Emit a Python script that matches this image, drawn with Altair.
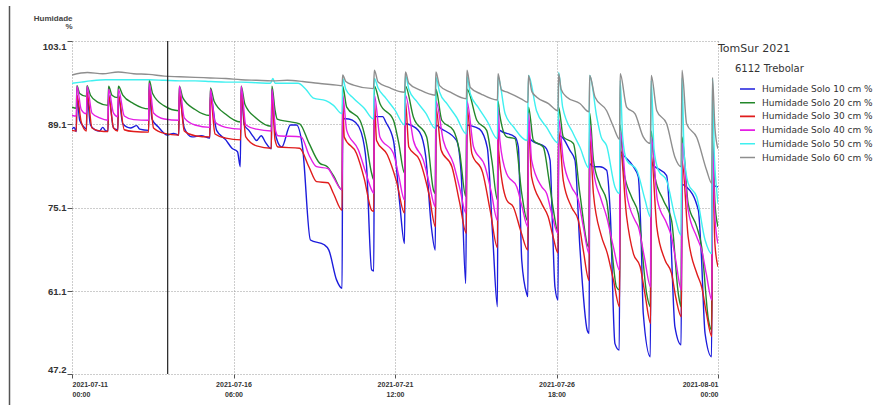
import altair as alt
import pandas as pd
from datetime import datetime, timezone

# ---------------- data (day offset from 2021-07-11 00:00, value %) ----------------
series_names = [
    "Humidade Solo 10 cm %", "Humidade Solo 20 cm %", "Humidade Solo 30 cm %",
    "Humidade Solo 40 cm %", "Humidade Solo 50 cm %", "Humidade Solo 60 cm %",
]
series_colors = ["#1c1cdc", "#23872a", "#e01c1c", "#e41ee4", "#3ff0f0", "#8e8e8e"]

s10 = [
    [0, 88.3], [0.07, 88.6], [0.14, 87.9], [0.16, 93.9], [0.25, 89.8], [0.4, 88.6], [0.47, 88.3],
    [0.49, 94.0], [0.6, 89.0], [0.75, 88.2], [0.9, 88.0], [1.0, 88.6], [1.1, 88.0], [1.17, 88.0],
    [1.19, 94.0], [1.35, 88.5], [1.49, 88.2], [1.51, 94.0], [1.65, 89.2], [1.9, 88.5], [2.1, 88.9],
    [2.2, 88.3], [2.49, 88.1], [2.51, 95.5], [2.6, 90.0], [2.8, 88.7], [3.1, 87.3], [3.3, 87.6],
    [3.47, 87.3], [3.49, 94.0], [3.65, 88.5], [3.9, 87.0], [4.2, 87.2], [4.48, 86.8], [4.5, 94.0],
    [4.7, 88.1], [5.0, 86.5], [5.2, 85.1], [5.38, 84.5], [5.47, 82.0], [5.5, 95.0], [5.6, 89.0],
    [5.75, 88.1], [5.9, 87.0], [6.0, 86.4], [6.15, 87.2], [6.3, 86.0], [6.48, 85.0], [6.5, 95.0],
    [6.6, 88.0], [6.7, 86.0], [6.82, 85.3], [7.1, 89.0], [7.3, 89.0], [7.5, 85.0], [7.75, 69.7],
    [8.2, 68.9], [8.35, 68.0], [8.6, 63.0], [8.78, 61.6],
    [8.8, 90.1], [9.0, 90.0], [9.2, 89.5], [9.4, 87.8], [9.57, 82.5], [9.74, 64.7], [9.81, 64.5],
    [9.83, 90.4], [10.1, 90.4], [10.2, 89.5], [10.45, 86.4], [10.65, 76.0], [10.81, 69.1],
    [10.84, 89.2], [11.0, 89.0], [11.3, 87.8], [11.5, 83.7], [11.68, 72.0], [11.81, 68.0],
    [11.83, 89.0], [12.0, 88.4], [12.5, 86.4], [12.65, 80.9], [12.8, 62.4],
    [12.84, 89.0], [12.95, 88.9], [13.25, 88.3], [13.5, 85.2], [13.68, 70.0], [13.83, 58.5],
    [13.85, 88.4], [13.91, 88.1], [14.4, 87.0], [14.51, 85.3], [14.62, 66.3], [14.78, 60.7], [14.82, 60.2],
    [14.84, 87.0], [14.94, 86.4], [15.38, 85.3], [15.54, 83.1], [15.62, 72.0], [15.7, 61.8], [15.8, 59.6],
    [15.82, 87.2], [15.92, 87.0], [16.19, 84.7], [16.35, 83.1], [16.51, 68.5], [16.75, 54.5], [16.81, 54.0],
    [16.83, 82.5], [16.95, 82.0], [17.16, 82.0], [17.38, 81.4], [17.5, 74.0], [17.65, 52.3], [17.79, 51.2],
    [17.82, 84.5], [17.93, 83.9], [18.25, 82.0], [18.41, 80.3], [18.5, 70.0], [18.57, 57.4], [18.8, 50.1],
    [18.83, 82.5], [18.95, 82.0], [19.33, 80.5], [19.45, 72.0], [19.6, 55.1], [19.8, 52.1],
    [19.83, 79.0], [19.98, 78.6], [20.36, 74.7], [20.45, 68.0], [20.58, 54.0], [20.79, 50.1],
    [20.82, 78.8], [21.0, 78.6],
]

s20 = [
    [0, 92.0], [0.14, 91.8], [0.16, 95.6], [0.25, 94.3], [0.47, 93.8], [0.49, 95.6], [0.6, 94.0],
    [0.85, 92.8], [1.17, 92.3], [1.19, 95.5], [1.3, 94.0], [1.49, 93.6], [1.51, 95.5], [1.65, 94.0],
    [2.0, 92.6], [2.49, 91.7], [2.51, 96.5], [2.62, 94.3], [3.0, 92.2], [3.47, 91.4], [3.49, 95.5],
    [3.6, 93.6], [4.0, 91.6], [4.48, 90.6], [4.5, 95.2], [4.62, 93.0], [5.0, 90.8], [5.48, 89.5],
    [5.5, 95.5], [5.62, 92.5], [6.0, 90.1], [6.48, 88.8], [6.5, 95.5], [6.6, 91.5], [6.67, 90.0],
    [7.0, 89.6], [7.4, 89.2], [7.7, 86.0], [8.05, 82.6], [8.3, 82.0], [8.5, 80.5], [8.78, 78.1],
    [8.8, 95.5], [8.93, 92.0], [9.36, 89.8], [9.55, 86.5], [9.74, 80.9], [9.81, 79.8],
    [9.83, 95.5], [10.01, 92.6], [10.45, 89.8], [10.62, 86.0], [10.81, 80.9],
    [10.84, 95.5], [11.1, 90.3], [11.53, 87.0], [11.75, 78.1], [11.81, 77.5],
    [11.83, 95.0], [12.02, 89.8], [12.4, 88.1], [12.6, 84.5], [12.8, 77.0],
    [12.84, 95.0], [13.16, 89.8], [13.48, 88.1], [13.65, 83.0], [13.83, 76.4],
    [13.85, 93.0], [13.9, 90.9], [14.13, 87.0], [14.4, 86.7], [14.62, 77.5], [14.8, 73.0],
    [14.84, 92.0], [15.0, 86.4], [15.32, 85.3], [15.5, 80.0], [15.65, 74.7], [15.8, 71.0],
    [15.82, 92.0], [15.97, 87.0], [16.3, 85.9], [16.51, 77.5], [16.8, 68.5],
    [16.83, 91.0], [16.95, 83.1], [17.16, 79.0], [17.38, 76.3], [17.55, 68.0], [17.7, 61.8], [17.8, 61.3],
    [17.82, 89.0], [17.93, 81.4], [18.19, 76.9], [18.41, 74.1], [18.68, 60.7], [18.8, 58.5],
    [18.83, 88.0], [18.95, 80.3], [19.22, 76.4], [19.49, 73.0], [19.71, 60.7], [19.8, 58.5],
    [19.83, 87.0], [20.03, 75.8], [20.31, 71.9], [20.47, 68.5], [20.69, 56.3], [20.79, 54.6],
    [20.82, 87.0], [20.9, 76.0], [21.0, 71.9],
]

s30 = [
    [0, 88.1], [0.14, 88.0], [0.16, 94.0], [0.3, 89.5], [0.47, 88.0], [0.49, 94.5], [0.65, 88.5],
    [0.9, 88.0], [1.17, 87.9], [1.19, 94.0], [1.35, 88.5], [1.49, 88.0], [1.51, 94.0], [1.7, 88.2],
    [2.0, 87.9], [2.49, 87.8], [2.51, 95.0], [2.65, 88.5], [3.0, 87.6], [3.47, 87.3], [3.49, 94.5],
    [3.65, 88.0], [4.0, 87.2], [4.48, 87.0], [4.5, 94.0], [4.65, 87.5], [5.0, 86.8], [5.48, 86.5],
    [5.5, 94.5], [5.65, 87.0], [6.0, 85.5], [6.48, 85.1], [6.5, 94.0], [6.6, 86.5], [6.7, 85.3],
    [7.4, 85.1], [7.7, 82.0], [7.95, 79.5], [8.32, 79.3], [8.5, 77.5], [8.78, 74.7],
    [8.8, 93.0], [8.85, 87.0], [9.25, 84.2], [9.5, 80.0], [9.74, 74.7], [9.81, 74.5],
    [9.83, 93.0], [9.9, 86.4], [10.25, 84.0], [10.55, 79.5], [10.81, 74.2],
    [10.84, 93.0], [10.95, 85.3], [11.3, 83.1], [11.6, 77.5], [11.82, 71.9],
    [11.83, 92.0], [12.0, 84.8], [12.35, 82.0], [12.6, 76.0], [12.82, 70.8],
    [12.84, 92.0], [13.0, 84.2], [13.35, 81.0], [13.6, 74.5], [13.83, 68.4],
    [13.85, 91.0], [13.87, 84.7], [14.13, 76.4], [14.35, 75.2], [14.6, 71.0], [14.82, 68.0],
    [14.84, 89.0], [14.94, 80.3], [15.27, 75.8], [15.48, 73.6], [15.65, 70.0], [15.8, 67.5],
    [15.82, 88.0], [15.97, 79.7], [16.24, 75.2], [16.46, 73.0], [16.62, 68.0], [16.81, 62.9],
    [16.83, 87.0], [16.95, 77.5], [17.2, 70.5], [17.4, 67.5], [17.6, 63.0], [17.8, 58.5],
    [17.82, 85.0], [18.03, 73.6], [18.25, 67.4], [18.47, 65.2], [18.63, 60.5], [18.81, 55.7],
    [18.83, 84.0], [19.01, 71.9], [19.28, 66.3], [19.49, 64.1], [19.63, 60.0], [19.81, 56.8],
    [19.83, 83.0], [20.03, 70.2], [20.31, 64.1], [20.47, 61.8], [20.62, 57.5], [20.8, 53.5],
    [20.82, 83.0], [20.9, 69.0], [21.0, 65.2],
]

s40 = [
    [0, 90.6], [0.14, 90.5], [0.16, 95.5], [0.3, 91.6], [0.47, 90.9], [0.49, 95.5], [0.65, 91.0],
    [0.9, 90.2], [1.17, 89.8], [1.19, 95.0], [1.35, 91.0], [1.49, 90.4], [1.51, 95.0], [1.7, 90.5],
    [2.0, 89.9], [2.49, 89.8], [2.51, 96.0], [2.65, 91.0], [3.0, 90.0], [3.47, 89.8], [3.49, 95.5],
    [3.65, 90.2], [4.0, 89.0], [4.48, 88.6], [4.5, 95.0], [4.65, 89.5], [5.0, 88.6], [5.48, 88.3],
    [5.5, 95.5], [5.65, 89.0], [6.0, 88.3], [6.48, 88.0], [6.5, 95.0], [6.62, 88.0], [6.7, 87.2],
    [7.45, 87.0], [7.7, 84.0], [7.95, 82.0], [8.32, 81.7], [8.5, 80.2], [8.78, 78.1],
    [8.8, 94.0], [8.93, 88.1], [9.31, 84.8], [9.55, 81.0], [9.74, 78.1], [9.81, 77.5],
    [9.83, 94.0], [10.01, 87.0], [10.45, 84.2], [10.62, 80.5], [10.81, 76.4],
    [10.84, 94.0], [11.1, 86.4], [11.42, 83.1], [11.6, 79.5], [11.81, 75.3],
    [11.83, 93.0], [12.07, 86.4], [12.4, 82.5], [12.6, 78.5], [12.81, 74.2],
    [12.84, 93.0], [13.05, 85.4], [13.43, 82.0], [13.62, 78.0], [13.83, 73.0],
    [13.85, 92.0], [13.91, 86.4], [14.13, 80.8], [14.46, 78.6], [14.62, 75.5], [14.82, 71.9],
    [14.84, 91.0], [14.94, 83.1], [15.27, 78.6], [15.43, 77.5], [15.6, 74.0], [15.8, 70.8],
    [15.82, 90.0], [15.97, 83.1], [16.24, 78.6], [16.46, 76.4], [16.62, 72.0], [16.81, 67.4],
    [16.83, 89.0], [16.95, 81.4], [17.2, 76.5], [17.38, 73.6], [17.6, 68.5], [17.8, 64.6],
    [17.82, 88.0], [18.03, 77.5], [18.3, 73.0], [18.41, 71.9], [18.6, 67.0], [18.81, 61.8],
    [18.83, 87.0], [19.03, 76.4], [19.33, 72.5], [19.49, 70.2], [19.62, 66.5], [19.81, 61.3],
    [19.83, 86.0], [20.03, 74.7], [20.31, 70.2], [20.47, 68.0], [20.62, 64.0], [20.8, 59.6],
    [20.82, 86.0], [20.9, 73.5], [21.0, 69.1],
]

s50 = [
    [0, 96.0], [0.3, 96.2], [0.6, 96.4], [1.1, 96.6], [1.6, 96.6], [2.0, 96.6], [2.5, 96.6],
    [3.0, 96.5], [3.5, 96.4], [4.0, 96.4], [4.5, 96.3], [5.0, 96.2], [5.5, 96.2], [6.0, 96.1],
    [6.45, 96.0], [6.53, 96.8], [6.6, 96.0], [7.0, 96.0], [7.35, 96.0], [7.6, 95.0], [7.85, 93.5],
    [8.25, 93.1], [8.5, 92.3], [8.78, 90.9],
    [8.8, 96.8], [8.9, 95.0], [9.15, 93.5], [9.5, 91.8], [9.8, 90.0],
    [9.83, 96.8], [9.95, 95.2], [10.2, 93.5], [10.5, 91.5], [10.81, 89.0],
    [10.84, 97.3], [10.95, 95.0], [11.2, 93.0], [11.5, 91.0], [11.81, 88.4],
    [11.83, 97.0], [11.95, 94.5], [12.2, 92.5], [12.5, 90.3], [12.82, 87.5],
    [12.84, 97.1], [12.95, 94.2], [13.2, 92.0], [13.5, 89.6], [13.83, 86.7],
    [13.85, 97.1], [14.08, 90.9], [14.35, 88.7], [14.8, 86.4],
    [14.84, 97.3], [15.1, 91.4], [15.43, 88.6], [15.8, 86.0],
    [15.82, 97.8], [15.95, 92.0], [16.3, 87.5], [16.51, 85.3], [16.8, 81.8],
    [16.83, 97.3], [17.06, 90.3], [17.2, 87.0], [17.38, 85.5], [17.65, 78.6], [17.8, 77.5],
    [17.82, 96.5], [17.9, 87.0], [18.03, 83.1], [18.36, 81.4], [18.63, 76.4], [18.8, 73.6],
    [18.83, 96.5], [18.92, 85.0], [19.06, 81.4], [19.33, 79.7], [19.6, 73.6], [19.8, 70.5],
    [19.83, 96.9], [19.9, 84.0], [20.03, 79.2], [20.31, 76.9], [20.58, 69.7], [20.8, 67.4],
    [20.82, 96.8], [20.88, 84.0], [20.95, 78.5], [21.0, 75.8],
]

s60 = [
    [0, 97.4], [0.5, 97.8], [1.0, 97.6], [1.5, 97.9], [2.0, 97.6], [2.5, 97.5], [3.0, 97.2],
    [3.5, 97.1], [4.0, 97.0], [4.5, 96.9], [5.0, 96.8], [5.5, 96.6], [6.0, 96.5], [6.5, 96.4],
    [7.0, 96.5], [7.5, 96.3], [8.0, 96.0], [8.6, 95.7], [8.78, 95.6],
    [8.8, 97.4], [8.9, 96.3], [9.15, 95.7], [9.8, 95.1],
    [9.83, 98.2], [9.95, 96.2], [10.3, 95.3], [10.81, 94.5],
    [10.84, 97.9], [10.95, 96.0], [11.3, 94.9], [11.81, 94.0],
    [11.83, 97.9], [11.95, 95.6], [12.3, 94.5], [12.82, 93.4],
    [12.84, 98.2], [12.95, 95.3], [13.3, 94.2], [13.83, 93.2],
    [13.85, 97.6], [13.96, 94.9], [14.15, 94.5], [14.6, 93.4], [14.82, 92.8],
    [14.84, 97.3], [14.95, 94.6], [15.1, 93.7], [15.49, 92.6], [15.8, 91.4],
    [15.82, 97.6], [15.9, 95.0], [16.08, 93.7], [16.51, 92.6], [16.81, 91.2],
    [16.83, 97.3], [17.0, 93.7], [17.38, 91.4], [17.6, 88.7], [17.8, 86.6],
    [17.82, 97.6], [18.03, 92.0], [18.3, 90.9], [18.57, 87.0], [18.8, 85.9],
    [18.83, 97.3], [19.01, 91.4], [19.33, 89.2], [19.6, 83.6], [19.8, 82.0],
    [19.83, 98.2], [19.98, 89.2], [20.31, 86.9], [20.63, 81.4], [20.8, 79.2],
    [20.82, 97.0], [20.9, 88.5], [21.0, 85.0],
]

y_ticks = [47.2, 61.1, 75.1, 89.1, 103.1]
x_tick_days = [0, 5.25, 10.5, 15.75, 21]
cursor_day = 3.11

# ---------------- build table ----------------
DAY_MS = 86400000
start_ms = int(datetime(2021, 7, 11, tzinfo=timezone.utc).timestamp() * 1000)

rows = []
for name, pts in zip(series_names, [s10, s20, s30, s40, s50, s60]):
    for t, v in pts:
        rows.append({"time": start_ms + int(t * DAY_MS), "series": name, "value": v})
df = pd.DataFrame(rows)

x_ticks = [start_ms + int(d * DAY_MS) for d in x_tick_days]
x_domain = [x_ticks[0], x_ticks[-1]]

grid_dash = [1, 2]

x_axis = alt.Axis(
    values=x_ticks,
    labelExpr="[utcFormat(datum.value, '%Y-%m-%d'), utcFormat(datum.value, '%H:%M')]",
    labelFlush=True, labelFont="Liberation Sans", labelFontSize=7, labelFontWeight="bold",
    labelColor="#333333", labelLineHeight=10, labelPadding=2,
    grid=True, gridDash=grid_dash, gridColor="#9a9a9a", gridWidth=1,
    domain=False, ticks=True, tickSize=4, tickColor="#555555", title=None,
)

y_axis = alt.Axis(
    values=y_ticks, format=".1f", labelFlush=True,
    labelFont="Liberation Sans", labelFontSize=9.5, labelFontWeight="bold", labelColor="#333333",
    labelPadding=1,
    grid=True, gridDash=grid_dash, gridColor="#9a9a9a", gridWidth=1,
    domain=False, ticks=True, tickSize=5, tickColor="#555555",
    title=["Humidade", "%"], titleAngle=0, titleAlign="right", titleBaseline="alphabetic",
    titleX=0, titleY=-21, titleFont="Liberation Sans", titleFontSize=8,
    titleFontWeight="bold", titleColor="#444444", titleLineHeight=8.5,
)

legend = alt.Legend(
    title="6112 Trebolar", orient="none", legendX=663, legendY=23,
    symbolType="stroke", symbolSize=225, symbolStrokeWidth=1.6,
    symbolOffset=4, labelOffset=6, padding=0, labelLimit=300,
    labelFont="DejaVu Sans", labelFontSize=9, labelColor="#333333",
    titleFont="DejaVu Sans", titleFontSize=10, titleFontWeight="normal", titleColor="#333333",
    titlePadding=9, clipHeight=12, rowPadding=1.7,
)

lines = alt.Chart(df).mark_line(strokeWidth=1.4, clip=True, interpolate="monotone").encode(
    x=alt.X("time:T", scale=alt.Scale(type="utc", domain=x_domain), axis=x_axis),
    y=alt.Y("value:Q", scale=alt.Scale(domain=[47.2, 103.1], nice=False, zero=False), axis=y_axis),
    color=alt.Color("series:N", scale=alt.Scale(domain=series_names, range=series_colors), legend=legend),
)

cursor = alt.Chart(pd.DataFrame({"time": [start_ms + int(cursor_day * DAY_MS)]})).mark_rule(
    color="#222222", strokeWidth=1.2
).encode(x="time:T")

frame_line = alt.Chart(pd.DataFrame({"a": [0]})).mark_rule(color="#555555", strokeWidth=1.5).encode(
    x=alt.value(-62.5), y=alt.value(-35), y2=alt.value(365)
)

chart = alt.layer(lines, cursor, frame_line).properties(
    width=646, height=333,
    padding={"left": 72, "top": 41, "right": 157, "bottom": 31},
    autosize=alt.AutoSizeParams(type="none"),
    title=alt.TitleParams(
        "TomSur 2021", anchor="end", align="left", baseline="middle", font="DejaVu Sans",
        fontSize=11, fontWeight="normal", color="#333333", offset=0, dy=55, frame="group",
    ),
    background="white",
).configure_view(strokeWidth=0)

chart.save("out.html", embed_options={"renderer": "svg", "actions": False})
